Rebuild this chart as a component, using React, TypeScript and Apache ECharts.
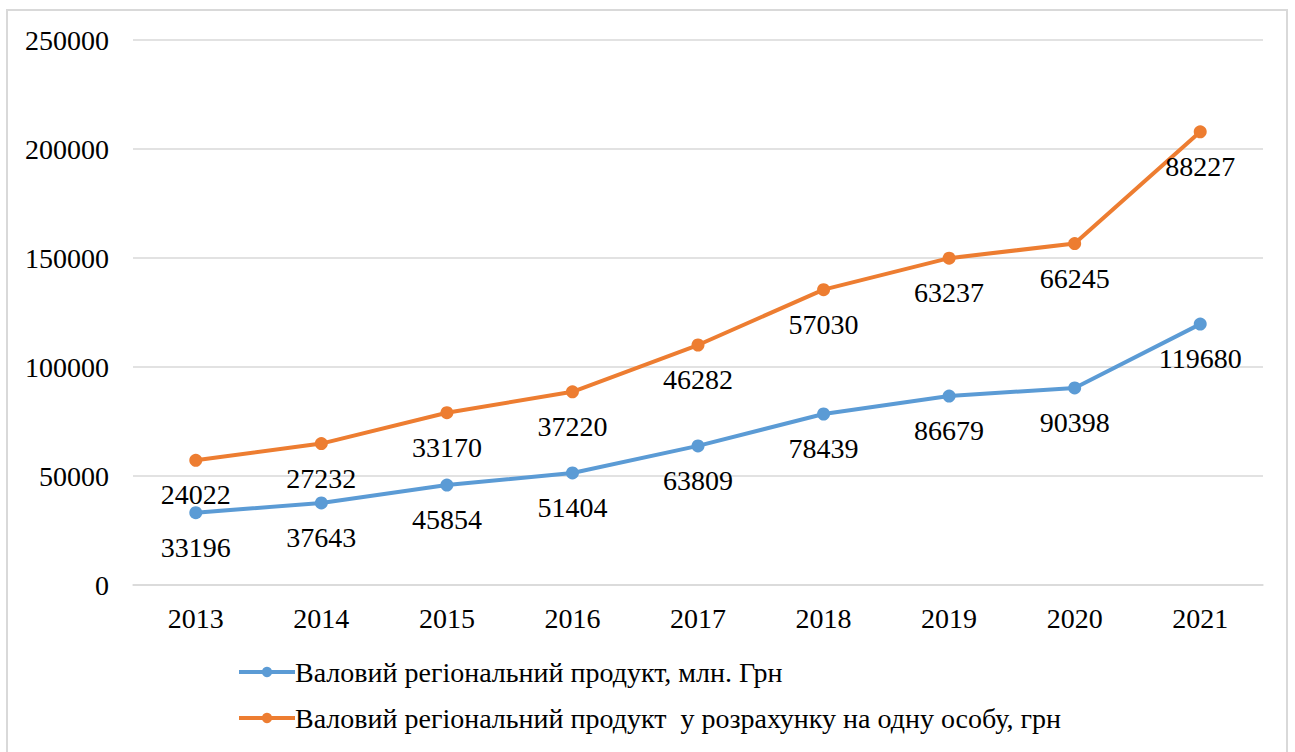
import React, { useEffect, useRef } from "react";
import * as echarts from "echarts";

const years = ["2013", "2014", "2015", "2016", "2017", "2018", "2019", "2020", "2021"];
const grpTotal = [33196, 37643, 45854, 51404, 63809, 78439, 86679, 90398, 119680];
const grpPerCapita = [24022, 27232, 33170, 37220, 46282, 57030, 63237, 66245, 88227];
const seriesNames = [
  "Валовий регіональний продукт, млн. Грн",
  "Валовий регіональний продукт  у розрахунку на одну особу, грн",
];

const FONT = "Liberation Serif";
const FS = 28;

export default function App() {
  const ref = useRef<HTMLDivElement>(null);
  useEffect(() => {
    if (!ref.current) return;
    const chart = echarts.init(ref.current, null, { renderer: "svg" });
    const labelStyle = {
      show: true,
      position: "bottom" as const,
      distance: 14,
      color: "#000",
      fontFamily: FONT,
      fontSize: FS,
    };
    chart.setOption({
      animation: false,
      backgroundColor: "#fff",
      textStyle: { fontFamily: FONT },
      graphic: [
        {
          type: "rect",
          shape: { x: 7, y: 10, width: 1280, height: 760 },
          style: { fill: "none", stroke: "#d9d9d9", lineWidth: 2 },
          silent: true,
        },
      ],
      grid: { left: 133, right: 32, top: 40, bottom: 167 },
      legend: {
        orient: "vertical",
        left: 232,
        top: 653,
        itemWidth: 56,
        itemHeight: 13,
        itemGap: 18,
        lineStyle: { width: 4 },
        textStyle: { fontFamily: FONT, fontSize: FS, color: "#000", padding: [0, 0, 0, -5] },
        data: seriesNames,
      },
      xAxis: {
        type: "category",
        data: years,
        boundaryGap: true,
        axisLine: { show: true, lineStyle: { color: "#d9d9d9", width: 1.5 } },
        axisTick: { show: false },
        axisLabel: { color: "#000", fontFamily: FONT, fontSize: FS, margin: 19 },
      },
      yAxis: {
        type: "value",
        min: 0,
        max: 250000,
        interval: 50000,
        axisLine: { show: false },
        axisTick: { show: false },
        splitLine: { lineStyle: { color: "#d9d9d9", width: 1.5 } },
        axisLabel: {
          color: "#000",
          fontFamily: FONT,
          fontSize: FS,
          margin: 24,
          formatter: (v: number) => String(v),
        },
      },
      series: [
        {
          name: seriesNames[0],
          type: "line",
          stack: "total",
          data: grpTotal,
          symbol: "circle",
          symbolSize: 13,
          lineStyle: { color: "#5B9BD5", width: 4 },
          itemStyle: { color: "#5B9BD5" },
          label: labelStyle,
        },
        {
          name: seriesNames[1],
          type: "line",
          stack: "total",
          data: grpPerCapita,
          symbol: "circle",
          symbolSize: 13,
          lineStyle: { color: "#ED7D31", width: 4 },
          itemStyle: { color: "#ED7D31" },
          label: labelStyle,
        },
      ],
    });
    return () => chart.dispose();
  }, []);
  return (
    <div
      ref={ref}
      style={{ position: "absolute", left: 0, top: 0, width: 1295, height: 752 }}
    />
  );
}
